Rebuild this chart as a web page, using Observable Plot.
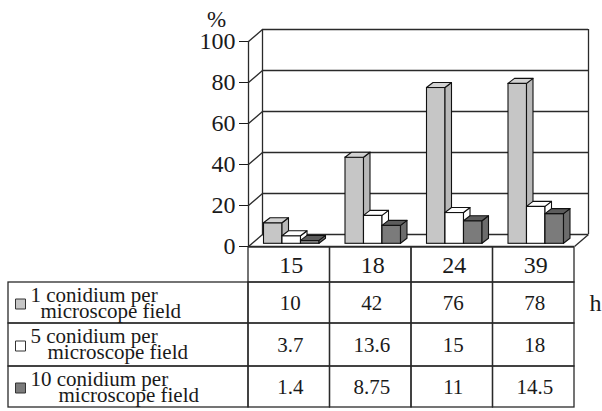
<!DOCTYPE html>
<html>
<head>
<meta charset="utf-8">
<script src="https://cdn.jsdelivr.net/npm/d3@7"></script>
<script src="https://cdn.jsdelivr.net/npm/@observablehq/plot@0.6"></script>
<style>
  html, body { margin: 0; padding: 0; background: #fff; }
  #chart { width: 602px; }
  #chart svg { display: block; }
</style>
</head>
<body>
<div id="chart"></div>
<script>
// Germinated conidia (%) after each incubation time (h), by conidium density
const hours = ["15", "18", "24", "39"];
const seriesNames = [
  "1 conidium per microscope field",
  "5 conidium per microscope field",
  "10 conidium per microscope field"
];
const oneConidium = [10, 42, 76, 78];
const fiveConidia = [3.7, 13.6, 15, 18];
const tenConidia = [1.4, 8.75, 11, 14.5];
const yTicks = [0, 20, 40, 60, 80, 100];

const seriesValues = [oneConidium, fiveConidia, tenConidia];

// ---- styling and layout (pixels) ----
const FONT = "Liberation Serif";
const BIG = 24, SMALL = 21;
const INK = "#1a1a1a";
const shades = [
  {front: "#c6c6c6", side: "#b9b9b9", top: "#d2d2d2"},
  {front: "#ffffff", side: "#ffffff", top: "#ffffff"},
  {front: "#7b7b7b", side: "#6c6c6c", top: "#5c5c5c"}
];
const W = 602;
const FRAME = {left: 248, right: 574, top: 41, bottom: 246};
const WALL = {dx: 14, dy: 12};                                   // receding depth of walls/floor
const BAR = {offset: 15.5, width: 18.5, dx: 6.5, dy: 5, lift: 2.7};
const KX = (FRAME.right - FRAME.left) / hours.length;            // px per column
const KY = (FRAME.bottom - FRAME.top) / 100;                     // px per percent
const ux = px => px / KX;
const uy = px => px / KY;
const line = {stroke: "#2a2a2a", strokeWidth: 1.3};
const edge = {stroke: "#111", strokeWidth: 1.1};
const serif = {fontFamily: FONT, fill: INK};
const n = hours.length;

// ---- 3D bar faces, built from the series values ----
const wallDx = ux(WALL.dx), wallDy = uy(WALL.dy);
const faces = seriesValues.map((vals, k) => {
  const bars = vals.map((v, c) => {
    const x1 = c + ux(BAR.offset + k * BAR.width);
    const base = uy(BAR.lift);
    return {id: `${k}-${c}`, x1, x2: x1 + ux(BAR.width), y1: base, y2: base + v};
  });
  const side = bars.flatMap(b => [
    {id: b.id, x: b.x2, y1: b.y1, y2: b.y2},
    {id: b.id, x: b.x2 + ux(BAR.dx), y1: b.y1 + uy(BAR.dy), y2: b.y2 + uy(BAR.dy)}
  ]);
  const top = bars.flatMap(b => [
    {id: b.id, y: b.y2, x1: b.x1, x2: b.x2},
    {id: b.id, y: b.y2 + uy(BAR.dy), x1: b.x1 + ux(BAR.dx), x2: b.x2 + ux(BAR.dx)}
  ]);
  return {bars, side, top};
});

// ---- data table under the chart ----
const TABLE = {
  height: 411 - (FRAME.bottom + 1),
  rowEdges: [0, 35, 76, 119, 160],
  labelLeft: 8, swatchX: 20, swatchSize: 10, textX: 30,
  line1: 19, line2: 35, indent: [10, 17, 28]
};
const rowTop = r => TABLE.rowEdges[r];
const rowMid = r => (TABLE.rowEdges[r] + TABLE.rowEdges[r + 1]) / 2;
const xAt = px => ux(px - FRAME.left);

const cells = d3.range(4).flatMap(r => d3.range(n).map(c => ({r, c})));
const headerCells = hours.map((h, c) => ({c, text: h}));
const valueCells = seriesValues.flatMap((vals, k) => vals.map((v, c) => ({r: k + 1, c, text: String(v)})));
const labels = seriesNames.map((name, k) => {
  const i = name.indexOf("microscope");
  return {r: k + 1, k, line1: name.slice(0, i).trim(), line2: name.slice(i)};
});

function draw() {
  const barMarks = faces.flatMap((f, k) => [
    Plot.rect(f.bars, {x1: "x1", x2: "x2", y1: "y1", y2: "y2", fill: shades[k].front, ...edge}),
    Plot.area(f.side, {x1: "x", y1: "y1", y2: "y2", z: "id", fill: shades[k].side, ...edge}),
    Plot.area(f.top, {x1: "x1", x2: "x2", y1: "y", z: "id", fill: shades[k].top, ...edge})
  ]);

  const chart = Plot.plot({
    width: W,
    height: FRAME.bottom + 1,
    marginLeft: FRAME.left,
    marginRight: W - FRAME.right,
    marginTop: FRAME.top,
    marginBottom: 1,
    x: {domain: [0, n], axis: null},
    y: {domain: [0, 100]},
    style: {fontFamily: FONT, color: INK, background: "white", overflow: "visible"},
    marks: [
      Plot.axisY(yTicks, {tickSize: 9, tickPadding: 4, label: null, fontSize: BIG, fontFamily: FONT, stroke: INK}),
      // back wall with its gridlines
      Plot.ruleY(yTicks, {x1: wallDx, x2: n + wallDx, y: d => d + wallDy, ...line}),
      Plot.ruleX([wallDx, n + wallDx], {y1: wallDy, y2: 100 + wallDy, ...line}),
      // left wall: receding line from every tick
      Plot.link(yTicks, {x1: 0, y1: d => d, x2: wallDx, y2: d => d + wallDy, ...line}),
      // floor right edge and front edges
      Plot.link([n], {x1: d => d, y1: 0, x2: d => d + wallDx, y2: wallDy, ...line}),
      Plot.ruleX([0], {y1: 0, y2: 100, ...line}),
      Plot.ruleY([0], {x1: 0, x2: n, ...line}),
      ...barMarks,
      Plot.text(["%"], {frameAnchor: "top-left", text: d => d, textAnchor: "middle",
        lineAnchor: "bottom", dx: -32, dy: -15, fontSize: 23, ...serif})
    ]
  });

  const table = Plot.plot({
    width: W,
    height: TABLE.height,
    marginLeft: FRAME.left,
    marginRight: W - FRAME.right,
    marginTop: 0,
    marginBottom: 0,
    x: {domain: [0, n], axis: null},
    y: {domain: [0, TABLE.height], range: [0, TABLE.height], axis: null},
    style: {fontFamily: FONT, color: INK, background: "white", overflow: "visible"},
    marks: [
      Plot.rect(cells, {x1: d => d.c, x2: d => d.c + 1, y1: d => rowTop(d.r), y2: d => rowTop(d.r + 1),
        fill: "none", ...line}),
      Plot.rect(labels, {x1: xAt(TABLE.labelLeft), x2: 0, y1: d => rowTop(d.r), y2: d => rowTop(d.r + 1),
        fill: "none", ...line}),
      Plot.text(headerCells, {x: d => d.c + 0.5, y: rowMid(0), text: "text", fontSize: BIG, dx: 2, ...serif}),
      Plot.text(valueCells, {x: d => d.c + 0.5, y: d => rowMid(d.r), text: "text", fontSize: SMALL, dx: 1, ...serif}),
      Plot.dot(labels, {x: xAt(TABLE.swatchX), y: d => rowMid(d.r) + 1, symbol: "square",
        r: TABLE.swatchSize / Math.sqrt(Math.PI), fill: d => shades[d.k].front, stroke: "#333", strokeWidth: 1}),
      Plot.text(labels, {x: xAt(TABLE.textX), y: d => rowTop(d.r) + TABLE.line1, text: "line1",
        textAnchor: "start", lineAnchor: "bottom", fontSize: SMALL, ...serif}),
      Plot.text(labels, {x: d => xAt(TABLE.textX + TABLE.indent[d.k]), y: d => rowTop(d.r) + TABLE.line2,
        text: "line2", textAnchor: "start", lineAnchor: "bottom", fontSize: SMALL, ...serif}),
      Plot.text(["h"], {x: xAt(595), y: rowMid(1), text: d => d, fontSize: BIG, ...serif})
    ]
  });

  document.getElementById("chart").replaceChildren(chart, table);
}

draw();
// redraw once the serif face is ready so every label uses it
if (document.fonts && document.fonts.load) {
  Promise.all([document.fonts.load(`${BIG}px "${FONT}"`), document.fonts.load(`${SMALL}px "${FONT}"`)])
    .then(draw, () => {});
}
</script>
</body>
</html>
